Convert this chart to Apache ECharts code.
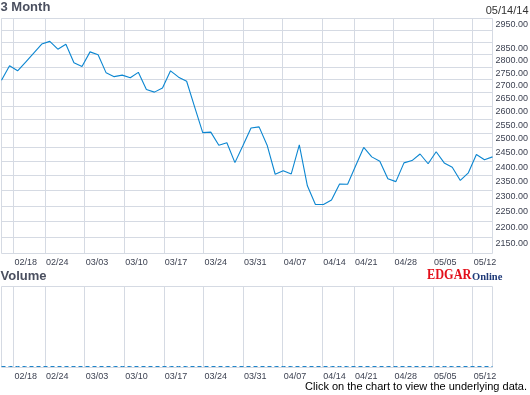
<!DOCTYPE html>
<html><head><meta charset="utf-8">
<script src="https://cdn.jsdelivr.net/npm/echarts@6/dist/echarts.min.js"></script>
<style>html,body{margin:0;padding:0;background:#fff}#c{width:530px;height:395px}</style>
</head><body><div id="c"></div>
<script>
// Trading days shown (3 months ending 05/14/14)
const dates = ['02/14','02/18','02/19','02/20','02/21','02/24','02/25','02/26','02/27','02/28',
  '03/03','03/04','03/05','03/06','03/07','03/10','03/11','03/12','03/13','03/14',
  '03/17','03/18','03/19','03/20','03/21','03/24','03/25','03/26','03/27','03/28',
  '03/31','04/01','04/02','04/03','04/04','04/07','04/08','04/09','04/10','04/11',
  '04/14','04/15','04/16','04/17','04/21','04/22','04/23','04/24','04/25','04/28',
  '04/29','04/30','05/01','05/02','05/05','05/06','05/07','05/08','05/09','05/12',
  '05/13','05/14'];
const closes = [2698,2755,2735,2770,2806,2843,2854,2822,2842,2767,
  2752,2811,2799,2727,2712,2718,2708,2729,2662,2652,
  2668,2735,2710,2694,2595,2501,2503,2456,2465,2395,
  2455,2518,2522,2456,2355,2367,2356,2457,2316,2254,
  2254,2269,2322,2321,2384,2448,2415,2400,2340,2330,
  2394,2402,2425,2391,2433,2394,2379,2334,2360,2423,
  2405,2415];
const volumes = [0,0,0,0,0,0,0,0,0,0, 0,0,0,0,0,0,0,0,0,0,
  0,0,0,0,0,0,0,0,0,0, 0,0,0,0,0,0,0,0,0,0,
  0,0,0,0,0,0,0,0,0,0, 0,0,0,0,0,0,0,0,0,0, 0,0];
const weekStartLabels = ['02/18','02/24','03/03','03/10','03/17','03/24','03/31','04/07','04/14','04/21','04/28','05/05','05/12'];
const yGridValues = [2150,2200,2250,2300,2350,2400,2450,2500,2550,2600,2650,2700,2750,2800,2850,2900,2950];
const yTickLabels = ['2150.00','2200.00','2250.00','2300.00','2350.00','2400.00','2450.00','2500.00','2550.00','2600.00','2650.00','2700.00','2750.00','2800.00','2850.00','2950.00'];

const gridColor = '#d5dae3';
const labelColor = '#3d4252';
const FONT = 'Arial, "Liberation Sans", sans-serif';
const mondayIdx = weekStartLabels.map(d => dates.indexOf(d));

function weekAxis(gridIndex) {
  return {
    type: 'value', gridIndex: gridIndex, position: 'bottom',
    min: -0.5, max: dates.length - 0.5,
    axisLine: {show: false},
    axisTick: {show: false, customValues: mondayIdx},
    axisLabel: {customValues: mondayIdx, formatter: v => dates[Math.round(v)],
      align: 'left', margin: 5, fontSize: 9, color: labelColor, fontFamily: FONT, padding: [0,0,0,1]},
    splitLine: {show: true, lineStyle: {color: gridColor, width: 1}}
  };
}

const chart = echarts.init(document.getElementById('c'), null, {renderer: 'canvas'});
chart.setOption({
  animation: false,
  title: [
    {text: '3 Month', left: 0.5, top: 1, padding: 0, textStyle: {fontSize: 13, fontWeight: 'bold', color: '#4a4f5f', fontFamily: FONT}},
    {text: '05/14/14', right: 1.5, top: 5.5, padding: 0, textStyle: {fontSize: 11, fontWeight: 'normal', color: '#333', fontFamily: FONT}},
    {text: 'Volume', left: 0.5, top: 269.5, padding: 0, textStyle: {fontSize: 13, fontWeight: 'bold', color: '#4a4f5f', fontFamily: FONT}},
    {text: 'Click on the chart to view the underlying data.', right: 3, top: 381.5, padding: 0, textStyle: {fontSize: 11, fontWeight: 'normal', color: '#000', fontFamily: FONT}}
  ],
  graphic: [
    {type: 'text', x: 427, y: 267.5, scaleX: 0.82, style: {text: 'EDGAR', font: 'bold 15px "Liberation Serif", "Times New Roman", serif', fill: '#e3101b', verticalAlign: 'top'}},
    {type: 'text', x: 472, y: 271.3, style: {text: 'Online', font: 'bold 10.5px "Liberation Serif", "Times New Roman", serif', fill: '#1f3a78', verticalAlign: 'top'}}
  ],
  grid: [
    {left: 1.5, top: 18.5, right: 37.5, height: 235, show: true, borderColor: gridColor, borderWidth: 1, backgroundColor: 'transparent'},
    {left: 1.5, top: 286.5, right: 37.5, height: 81, show: true, borderColor: gridColor, borderWidth: 1, backgroundColor: 'transparent'}
  ],
  xAxis: [
    {type: 'category', gridIndex: 0, data: dates, boundaryGap: false, show: false},
    weekAxis(0),
    {type: 'category', gridIndex: 1, data: dates, boundaryGap: false, show: false},
    weekAxis(1)
  ],
  yAxis: [
    {type: 'log', gridIndex: 0, min: 2100, max: 2950, show: false},
    {type: 'value', gridIndex: 1, min: -0.0125, max: 1, show: false}
  ],
  series: [
    {
      type: 'line', xAxisIndex: 0, yAxisIndex: 0, data: closes, symbol: 'none', z: 3,
      lineStyle: {color: '#0b86d1', width: 1.1},
      markLine: {
        silent: true, z: 1, symbol: ['none', 'none'],
        lineStyle: {color: gridColor, width: 1, type: 'solid'},
        label: {position: 'end', distance: 3, verticalAlign: 'top', align: 'left', padding: [1.5,0,0,0],
          fontSize: 9, color: labelColor, fontFamily: FONT, formatter: '{b}'},
        emphasis: {disabled: true},
        data: yGridValues.map(v => {
          const txt = v.toFixed(2);
          return {yAxis: v, name: txt, label: {show: yTickLabels.indexOf(txt) >= 0}};
        })
      }
    },
    {
      type: 'line', xAxisIndex: 2, yAxisIndex: 1, data: volumes, symbol: 'none', z: 3,
      lineStyle: {color: '#1f84c8', width: 1, type: [4, 3]}
    }
  ]
});
</script></body></html>
